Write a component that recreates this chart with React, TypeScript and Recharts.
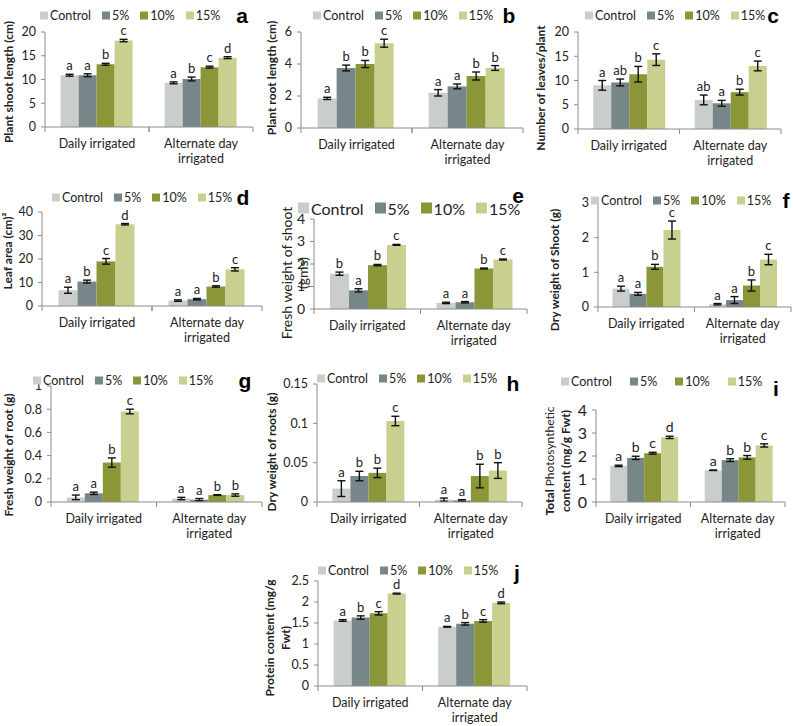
import React from 'react';
import { BarChart, Bar, XAxis, YAxis, ErrorBar, LabelList } from 'recharts';

const groups = ['Daily irrigated', 'Alternate day irrigated'];
const treatments = ['Control', '5%', '10%', '15%'];
const colors = ['#c9cecc', '#778789', '#8a9638', '#c8cf8f'];
const axisColor = '#8c8c8c';

// a - plant shoot length
const shootLength = [[10.9, 10.9, 13.2, 18.2], [9.3, 10.1, 12.6, 14.6]];
const shootLengthErr = [[0.2, 0.3, 0.2, 0.25], [0.2, 0.4, 0.2, 0.2]];
const shootLengthLetters = [['a', 'a', 'b', 'c'], ['a', 'b', 'c', 'd']];

// b - plant root length
const rootLength = [[1.85, 3.75, 4.0, 5.3], [2.2, 2.6, 3.25, 3.75]];
const rootLengthErr = [[0.07, 0.18, 0.22, 0.25], [0.2, 0.15, 0.25, 0.15]];
const rootLengthLetters = [['a', 'b', 'b', 'c'], ['a', 'a', 'b', 'b']];

// c - number of leaves
const leaves = [[9.0, 9.6, 11.3, 14.3], [6.0, 5.3, 7.6, 13.0]];
const leavesErr = [[1.0, 0.7, 1.6, 1.2], [1.0, 0.6, 0.6, 1.0]];
const leavesLetters = [['a', 'ab', 'b', 'c'], ['ab', 'a', 'b', 'c']];

// d - leaf area
const leafArea = [[6.7, 10.4, 19.0, 34.8], [2.3, 2.9, 8.3, 15.6]];
const leafAreaErr = [[1.3, 0.6, 1.2, 0.3], [0.3, 0.3, 0.3, 0.7]];
const leafAreaLetters = [['a', 'b', 'c', 'd'], ['a', 'a', 'b', 'c']];

// e - fresh weight of shoot
const freshShoot = [[1.57, 0.83, 1.95, 2.85], [0.27, 0.3, 1.8, 2.2]];
const freshShootErr = [[0.07, 0.07, 0.03, 0.02], [0.03, 0.03, 0.02, 0.02]];
const freshShootLetters = [['b', 'a', 'b', 'c'], ['a', 'a', 'b', 'c']];

// f - dry weight of shoot
const dryShoot = [[0.53, 0.38, 1.16, 2.22], [0.08, 0.2, 0.62, 1.37]];
const dryShootErr = [[0.07, 0.04, 0.07, 0.26], [0.02, 0.1, 0.16, 0.15]];
const dryShootLetters = [['a', 'a', 'b', 'c'], ['a', 'a', 'b', 'c']];

// g - fresh weight of root
const freshRoot = [[0.04, 0.075, 0.34, 0.78], [0.03, 0.02, 0.06, 0.06]];
const freshRootErr = [[0.02, 0.01, 0.04, 0.02], [0.01, 0.01, 0.003, 0.01]];
const freshRootLetters = [['a', 'a', 'b', 'c'], ['a', 'a', 'b', 'b']];

// h - dry weight of roots
const dryRoot = [[0.017, 0.033, 0.037, 0.103], [0.003, 0.002, 0.033, 0.04]];
const dryRootErr = [[0.01, 0.006, 0.006, 0.006], [0.002, 0.001, 0.015, 0.01]];
const dryRootLetters = [['a', 'b', 'b', 'c'], ['a', 'a', 'b', 'b']];

// i - total photosynthetic content
const photo = [[1.57, 1.92, 2.12, 2.81], [1.38, 1.82, 1.94, 2.46]];
const photoErr = [[0.03, 0.07, 0.04, 0.05], [0.01, 0.06, 0.08, 0.07]];
const photoLetters = [['a', 'b', 'c', 'd'], ['a', 'b', 'b', 'c']];

// j - protein content
const protein = [[1.56, 1.63, 1.73, 2.2], [1.41, 1.48, 1.55, 1.98]];
const proteinErr = [[0.02, 0.04, 0.04, 0.01], [0.01, 0.03, 0.03, 0.02]];
const proteinLetters = [['a', 'b', 'c', 'd'], ['a', 'b', 'c', 'd']];

const panels: any[] = [
  { id: 'a', values: shootLength, errs: shootLengthErr, letters: shootLengthLetters, ticks: [0, 5, 10, 15, 20],
    axisX: 45, yTop: 32, y0: 127, xEnd: 253, legend: [40, 15], mark: [242, 15],
    title: ['Plant shoot length (cm)'], titlePos: [9, 82] },
  { id: 'b', values: rootLength, errs: rootLengthErr, letters: rootLengthLetters, ticks: [0, 2, 4, 6],
    axisX: 301, yTop: 32, y0: 128, xEnd: 523, legend: [313, 15], mark: [509, 15],
    title: ['Plant root length (cm)'], titlePos: [272, 78] },
  { id: 'c', values: leaves, errs: leavesErr, letters: leavesLetters, ticks: [0, 5, 10, 15, 20],
    axisX: 578, yTop: 32, y0: 129, xEnd: 781, legend: [585, 15], mark: [773, 15],
    title: ['Number of leaves/plant'], titlePos: [541, 88] },
  { id: 'd', values: leafArea, errs: leafAreaErr, letters: leafAreaLetters, ticks: [0, 10, 20, 30, 40],
    axisX: 42, yTop: 212, y0: 306, xEnd: 262, legend: [52, 197], mark: [243, 197],
    title: ['Leaf area (cm)²'], titlePos: [8, 251] },
  { id: 'e', values: freshShoot, errs: freshShootErr, letters: freshShootLetters, ticks: [0, 1, 2, 3, 4],
    axisX: 314, yTop: 219, y0: 309, xEnd: 527, legend: [298, 208], legendFont: 16, icon: 11, mark: [518, 195],
    title: ['Fresh weight of shoot', '(gms)'], titlePos: [295, 273], titleBold: false, titleFont: 14, tickFont: 14 },
  { id: 'f', values: dryShoot, errs: dryShootErr, letters: dryShootLetters, ticks: [0, 1, 2, 3],
    axisX: 598, yTop: 203, y0: 307, xEnd: 791, legend: [591, 200], mark: [786, 200],
    title: ['Dry weight of Shoot (g)'], titlePos: [555, 270] },
  { id: 'g', values: freshRoot, errs: freshRootErr, letters: freshRootLetters, ticks: [0, 0.2, 0.4, 0.6, 0.8, 1],
    axisX: 51, yTop: 386, y0: 502, xEnd: 262, legend: [33, 380], mark: [245, 380],
    title: ['Fresh weight of root (g)'], titlePos: [9, 455] },
  { id: 'h', values: dryRoot, errs: dryRootErr, letters: dryRootLetters, ticks: [0, 0.05, 0.1, 0.15],
    axisX: 317, yTop: 384, y0: 502, xEnd: 522, legend: [317, 378], mark: [513, 383],
    title: ['Dry weight of roots (g)'], titlePos: [272, 452] },
  { id: 'i', values: photo, errs: photoErr, letters: photoLetters, ticks: [0, 1, 2, 3, 4],
    axisX: 596, yTop: 410, y0: 502, xEnd: 785, legend: [561, 381], legendGap: 18, mark: [776, 388],
    title: [<><b>Total</b> <span style={{ fontWeight: 400 }}>Photosynthetic</span></>, 'content (mg/g Fwt)'],
    titlePos: [558, 461], tickFont: 16, letterFont: 14 },
  { id: 'j', values: protein, errs: proteinErr, letters: proteinLetters, ticks: [0, 0.5, 1, 1.5, 2, 2.5],
    axisX: 318, yTop: 581, y0: 686, xEnd: 527, legend: [318, 570], mark: [517, 572],
    title: ['Protein content (mg/g', 'Fwt)'], titlePos: [278, 638] },
];

const FONT = 'Lato, "Open Sans", sans-serif';
const TOP_PAD = 24;

function CatTick({ x, y, payload, half }: any) {
  const label: string = payload.value;
  const cut = label.lastIndexOf(' ');
  const lines = label.length > 16 ? [label.slice(0, cut), label.slice(cut + 1)] : [label];
  return (
    <g>
      <line x1={x - half} x2={x - half} y1={y} y2={y + 5} stroke={axisColor} />
      <line x1={x + half} x2={x + half} y1={y} y2={y + 5} stroke={axisColor} />
      {lines.map((l, k) => (
        <text key={k} x={x} y={y + 21 + k * 15} textAnchor="middle" fontSize={12.5} fill="#222" fontFamily={FONT}>{l}</text>
      ))}
    </g>
  );
}

function Panel({ p }: any) {
  const yAxisW = 45;
  const xAxisH = 40;
  const left = p.axisX - yAxisW;
  const top = p.yTop - TOP_PAD;
  const width = p.xEnd - left + 4;
  const height = p.y0 - top + xAxisH;
  const half = (p.xEnd - p.axisX) / 4;
  const rows = groups.map((g, gi) => {
    const r: any = { name: g };
    treatments.forEach((_, ti) => {
      r[`v${ti}`] = p.values[gi][ti];
      r[`e${ti}`] = p.errs[gi][ti];
      r[`l${ti}`] = p.letters[gi][ti];
    });
    return r;
  });
  const letterFont = p.letterFont ?? 13;
  const letter = (ti: number) => (lp: any) => {
    const vb = lp.viewBox || lp;
    const idx = lp.index ?? 0;
    const row = rows[idx];
    if (!row || vb.x == null) return null;
    const val = row[`v${ti}`];
    const err = row[`e${ti}`];
    const px = val > 0 ? (err / val) * Math.abs(vb.height) : 0;
    const yTop = Math.min(vb.y, vb.y + vb.height);
    return (
      <text x={vb.x + vb.width / 2} y={yTop - px - 4} textAnchor="middle" fontSize={letterFont} fill="#222" fontFamily={FONT}>
        {lp.value}
      </text>
    );
  };
  const legendFont = p.legendFont ?? 12.5;
  const icon = p.icon ?? 8;
  return (
    <>
      <div style={{ position: 'absolute', left, top }}>
        <BarChart width={width} height={height} data={rows} margin={{ top: TOP_PAD, right: 4, left: 0, bottom: 0 }}
          barCategoryGap="15%" barGap={0}>
          <XAxis dataKey="name" height={xAxisH} interval={0} tickLine={false} tickSize={0} tickMargin={0}
            axisLine={{ stroke: axisColor }}
            tick={(tp: any) => <CatTick {...tp} half={half} />} />
          <YAxis width={yAxisW} domain={[0, p.ticks[p.ticks.length - 1]]} ticks={p.ticks} interval={0}
            tickSize={4} tickMargin={5} axisLine={{ stroke: axisColor }} tickLine={{ stroke: axisColor }}
            tick={{ fill: '#222', fontSize: p.tickFont ?? 12.5, fontFamily: FONT }} allowDataOverflow />
          {treatments.map((t, ti) => (
            <Bar key={t} dataKey={`v${ti}`} fill={colors[ti]} isAnimationActive={false}>
              <ErrorBar dataKey={`e${ti}`} width={4} stroke="#111" strokeWidth={1.4} />
              <LabelList dataKey={`l${ti}`} content={letter(ti)} />
            </Bar>
          ))}
        </BarChart>
      </div>
      <div style={{ position: 'absolute', left: p.legend[0], top: p.legend[1], transform: 'translateY(-50%)',
        display: 'flex', alignItems: 'center', fontFamily: FONT, fontSize: legendFont, color: '#222', whiteSpace: 'nowrap' }}>
        {treatments.map((t, ti) => (
          <span key={t} style={{ display: 'flex', alignItems: 'center', marginRight: p.legendGap ?? 11 }}>
            <span style={{ width: icon, height: icon, background: colors[ti], marginRight: 2, display: 'inline-block' }} />
            {t}
          </span>
        ))}
      </div>
      <div style={{ position: 'absolute', left: p.mark[0], top: p.mark[1], transform: 'translate(-50%,-50%)',
        fontFamily: '"Liberation Sans", Arial, sans-serif', fontWeight: 700, fontSize: 21, lineHeight: 1 }}>
        {p.id}
      </div>
      <div style={{ position: 'absolute', left: p.titlePos[0], top: p.titlePos[1],
        transform: 'translate(-50%,-50%) rotate(-90deg)', whiteSpace: 'nowrap', textAlign: 'center',
        fontFamily: FONT, fontWeight: p.titleBold === false ? 400 : 700, fontSize: p.titleFont ?? 12,
        lineHeight: '16px', color: '#222' }}>
        {p.title.map((l: any, k: number) => <div key={k}>{l}</div>)}
      </div>
    </>
  );
}

export default function App() {
  return (
    <div style={{ position: 'absolute', left: 0, top: 0, width: 793, height: 726, background: '#fff', overflow: 'hidden' }}>
      {panels.map((p) => <Panel key={p.id} p={p} />)}
    </div>
  );
}
